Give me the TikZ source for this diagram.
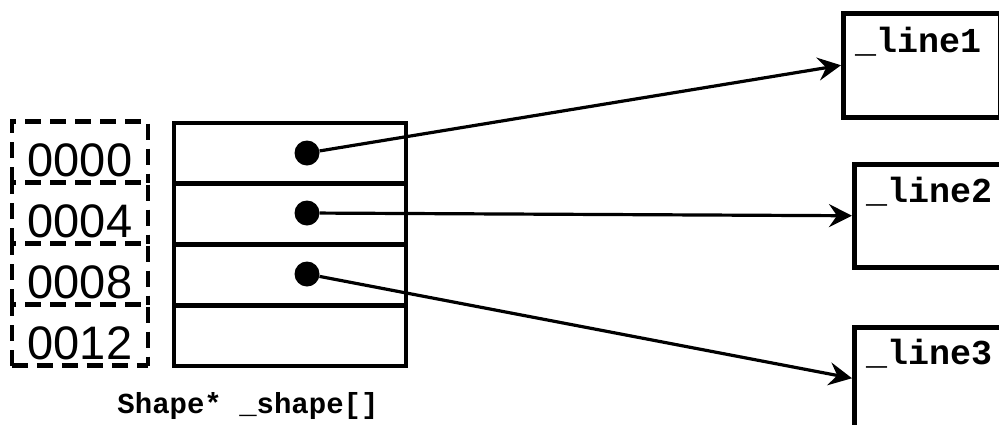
\documentclass[tikz,border=0pt]{standalone}
\usepackage{fontspec}
\setmainfont{Liberation Sans}
\newfontfamily\codefont{Liberation Mono}
\usetikzlibrary{arrows.meta}
\begin{document}
\begin{tikzpicture}[x=1pt,y=-1pt,
  addr/.style={minimum width=136pt, minimum height=61pt, inner sep=0pt, font=\fontsize{47}{50}\selectfont, text height=48pt, text depth=0pt},
  dashline/.style={line width=4.5pt, dash pattern=on 16pt off 9pt},
  cell/.style={draw, line width=4.5pt, minimum width=232pt, minimum height=60.75pt, inner sep=0pt},
  dot/.style={circle, fill=black, minimum size=25pt, inner sep=0pt},
  obj/.style={draw, line width=4.5pt, inner sep=0pt, anchor=north west},
  objlabel/.style={font=\codefont\bfseries\fontsize{35}{40}\selectfont, anchor=base west, inner sep=0pt},
  ptr/.style={line width=3.2pt, -{Stealth[length=23pt,width=23pt,inset=8pt]}}
]
\useasboundingbox (0,0) rectangle (999,424);
\clip (0,0) rectangle (999,424);
% address boxes
\node[addr] (a0) at (80,152) {0000};
\node[addr] (a4) at (80,213) {0004};
\node[addr] (a8) at (80,274) {0008};
\node[addr] (a12) at (80,335) {0012};
\foreach \n in {a0,a4,a8,a12}
  \draw[dashline] (\n.south west) -- (\n.north west) -- (\n.north east) -- (\n.south east);
\draw[dashline] (a12.south west) -- (a12.south east);
% array cells
\node[cell] (c0) at (290,153.4) {};
\node[cell] (c1) at (290,214.1) {};
\node[cell] (c2) at (290,274.9) {};
\node[cell] (c3) at (290,335.6) {};
% pointer dots
\node[dot] (d0) at (307,153) {};
\node[dot] (d1) at (307,213) {};
\node[dot] (d2) at (307,274) {};
% objects
\node[obj, minimum width=157pt, minimum height=104pt] (b1) at (841,11) {};
\node[obj, minimum width=200pt, minimum height=103pt] (b2) at (852,162) {};
\node[obj, minimum width=200pt, minimum height=102pt] (b3) at (852,325) {};
\node[objlabel] (l1) at (855,52) {\_line1};
\node[objlabel] (l2) at (866,202) {\_line2};
\node[objlabel] (l3) at (866,364) {\_line3};
% caption
\node[font=\codefont\bfseries\fontsize{29}{32}\selectfont, anchor=base, inner sep=0pt] (cap) at (248,413) {Shape* \_shape[]};
% pointers
\draw[ptr] (d0) -- (b1.west);
\draw[ptr] (d1) -- (b2.west);
\draw[ptr] (d2) -- (b3.west);
\end{tikzpicture}
\end{document}
